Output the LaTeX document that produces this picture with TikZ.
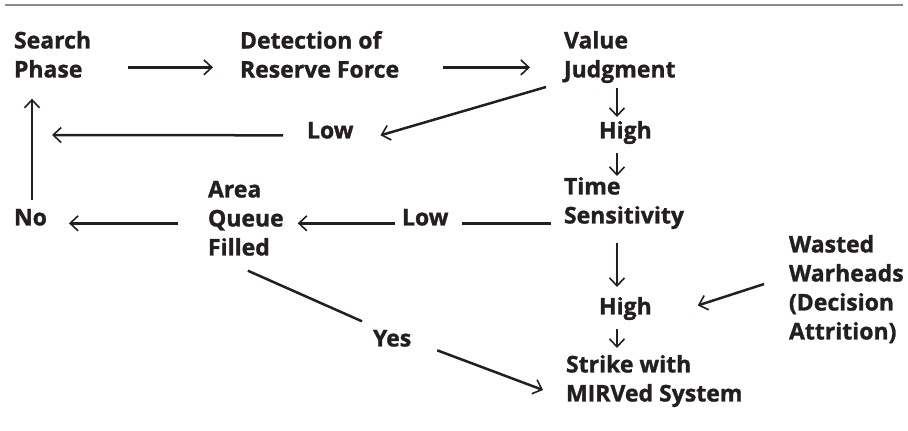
\documentclass[tikz,border=0pt]{standalone}
\usepackage{fontspec}
\setmainfont{Open Sans}[BoldFeatures={FakeBold=1.2}]
\usetikzlibrary{positioning}
\usetikzlibrary{calc}
\usetikzlibrary{arrows.meta}
\definecolor{ink}{HTML}{231F20}
\definecolor{rule}{HTML}{8C8C8C}
\tikzstyle{lbl}  = [inner sep=0pt, outer sep=0pt, align=left, anchor=north west, text=ink, font=\bfseries\fontsize{23}{29}\selectfont]
\tikzstyle{link} = [draw=ink, line width=2.5pt]
\tikzstyle{arr}  = [link, -{Straight Barb[length=8pt, width=15pt, line width=1.6pt]}]

\begin{document}
\begin{tikzpicture}[x=1pt, y=1pt]
     \useasboundingbox (0,0) rectangle (908,431);
     \draw[rule, line width=2pt] (5,426) -- (903,426);
     % labels
     \node[lbl] (search) at (14,400)  {Search\\Phase};
     \node[lbl] (detect) at (240,400) {Detection of\\Reserve Force};
     \node[lbl] (value)  at (564,400) {Value\\Judgment};
     \node[lbl] (lowtop) at (307,309) {Low};
     \node[lbl] (high1)  at (599,310) {High};
     \node[lbl] (time)   at (564,254) {Time\\Sensitivity};
     \node[lbl] (area)   at (208,250) {Area\\Queue\\Filled};
     \node[lbl] (lowmid) at (402,222) {Low};
     \node[lbl] (no)     at (14,222)  {No};
     \node[lbl] (high2)  at (599,134) {High};
     \node[lbl] (wasted) at (789,196) {Wasted\\Warheads\\(Decision\\Attrition)};
     \node[lbl] (yes)    at (373,101) {Yes};
     \node[lbl] (strike) at (566,76)  {Strike with\\MIRVed System};
     \coordinate (col)     at (617,0);
     \coordinate (leftcol) at (32,0);
     \coordinate (loopend) at (52,296);
     % top row
     \draw[arr, shorten <=37pt, shorten >=27pt] ($(search.east)+(0,-13)$) -- ($(search.east -| detect.west)+(0,-13)$);
     \draw[arr, shorten <=44pt, shorten >=34pt] ($(detect.east)+(0,-13)$) -- ($(detect.east -| value.west)+(0,-13)$);
     % low value loop
     \draw[arr] ($(value.south west)+(-18,-4)$) -- ($(lowtop.east)+(27,-5)$);
     \draw[arr] ($(lowtop.west)+(-24,-5)$) -- (loopend);
     \draw[arr, shorten <=9pt, shorten >=21pt] (no.north -| leftcol) -- (search.south -| leftcol);
     % main column
     \draw[arr, shorten <=5pt, shorten >=4pt]   (value.south -| col) -- (high1.north -| col);
     \draw[arr, shorten <=9pt, shorten >=1pt]   (high1.south -| col) -- (time.north -| col);
     \draw[arr, shorten <=14pt, shorten >=10pt] (time.south -| col)  -- (high2.north -| col);
     \draw[arr, shorten <=9pt, shorten >=7pt]   (high2.south -| col) -- (strike.north -| col);
     % low time branch
     \draw[link] ($(lowmid.east)+(14,-6)$) -- ($(lowmid.east -| time.west)+(-13,-6)$);
     \draw[arr]  ($(lowmid.west)+(-7,-6)$) -- ($(lowmid.west -| area.east)+(14,-6)$);
     \draw[arr]  ($(no.east -| area.west)+(-30,-6)$) -- ($(no.east)+(22,-6)$);
     % queue filled and attrition
     \draw[link] ($(area.south)+(2,-15)$) -- ($(yes.west)+(-11,17)$);
     \draw[arr]  ($(yes.east)+(26,-12)$) -- ($(strike.west)+(-23,-9)$);
     \draw[arr]  ($(wasted.west)+(-25,5)$) -- ($(high2.east)+(46,3)$);
\end{tikzpicture}
\end{document}
